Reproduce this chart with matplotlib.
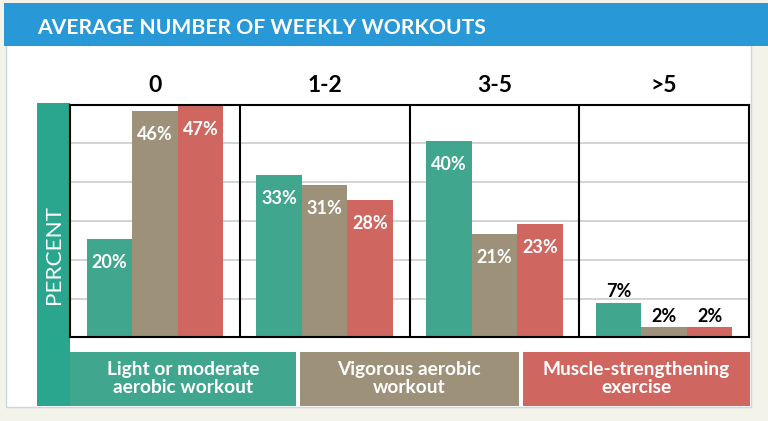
import numpy as np
import matplotlib
matplotlib.use("Agg")
import matplotlib.pyplot as plt
from matplotlib.patches import Rectangle

plt.rcParams['font.family'] = ['Lato', 'DejaVu Sans']

# data
groups = ['0', '1-2', '3-5', '>5']
light_moderate = [20, 33, 40, 7]
vigorous = [46, 31, 21, 2]
muscle = [47, 28, 23, 2]
series_names = ['Light or moderate\naerobic workout',
                'Vigorous aerobic\nworkout',
                'Muscle-strengthening\nexercise']

colors = ['#41a68e', '#9e917a', '#cf6660']
W, H = 768, 421


def fx(px):
    return px / W


def fy(py):
    return 1 - py / H


fig = plt.figure(figsize=(7.68, 4.21), dpi=100, facecolor='#f3f3e9')

# white card and blue title banner
fig.patches.append(Rectangle((fx(6), fy(407)), fx(751) - fx(6), fy(45) - fy(407),
                             transform=fig.transFigure, facecolor='white',
                             edgecolor='#c9d6e3', lw=1, zorder=-2))
fig.patches.append(Rectangle((fx(4), fy(45.7)), 1 - fx(4), fy(3) - fy(45.7),
                             transform=fig.transFigure, facecolor='#2899d6',
                             edgecolor='none', zorder=-1))
fig.text(fx(37), fy(34.3), 'AVERAGE NUMBER OF WEEKLY WORKOUTS', color='white',
         fontsize=15.2, fontweight='bold', ha='left', va='baseline')

# teal "PERCENT" strip
fig.patches.append(Rectangle((fx(37), fy(405.7)), fx(70) - fx(37), fy(103) - fy(405.7),
                             transform=fig.transFigure, facecolor='#29a68d',
                             edgecolor='none', zorder=-1))
fig.text(fx(54.5), fy(254), 'PERCENT', color='white', fontsize=16.2,
         rotation=90, ha='center', va='center')

# legend boxes along the bottom
box_edges = [(70, 296), (299.5, 519), (522.5, 750)]
for (x0, x1), name, c in zip(box_edges, series_names, colors):
    fig.patches.append(Rectangle((fx(x0), fy(405.7)), fx(x1) - fx(x0), fy(352) - fy(405.7),
                                 transform=fig.transFigure, facecolor=c,
                                 edgecolor='none', zorder=-1))
    fig.text(fx((x0 + x1) / 2), fy(378.5), name, color='white', fontsize=13.8,
             fontweight='bold', ha='center', va='center', linespacing=1.05)

# main plot
ax = fig.add_axes([fx(70), fy(337.3), fx(749) - fx(70), fy(104.7) - fy(337.3)])
ax.set_zorder(5)
ymax = 47.3
bw = 0.268
x = np.arange(len(groups)) + 0.5
for j, (vals, c) in enumerate(zip([light_moderate, vigorous, muscle], colors)):
    xs = x + (j - 1) * bw
    ax.bar(xs, vals, width=bw, color=c, zorder=2)
    for xi, v in zip(xs, vals):
        if v >= 10:
            ax.annotate(f'{v}%', (xi, v), xytext=(0, -17), textcoords='offset points',
                        ha='center', va='center', color='white', fontsize=13,
                        fontweight='bold')
        else:
            ax.annotate(f'{v}%', (xi, v), xytext=(0, 8), textcoords='offset points',
                        ha='center', va='center', color='black', fontsize=13,
                        fontweight='bold')

for i, g in enumerate(groups):
    ax.text(i + 0.5, 1.056, g, transform=ax.get_xaxis_transform(), ha='center',
            va='baseline', fontsize=16.5, fontweight='bold', color='black')

for d in [1, 2, 3]:
    ax.axvline(d, color='black', lw=1.5, zorder=3)

ax.set_xlim(0, 4)
ax.set_ylim(0, ymax)
ax.set_yticks(np.linspace(0, ymax, 7))
ax.yaxis.grid(True, color='#cccccc', lw=1.2)
ax.set_axisbelow(True)
ax.tick_params(length=0, labelleft=False, labelbottom=False)
for s in ax.spines.values():
    s.set_color('black')
    s.set_linewidth(1.5)

fig.savefig('out.png', dpi=100, facecolor=fig.get_facecolor())
